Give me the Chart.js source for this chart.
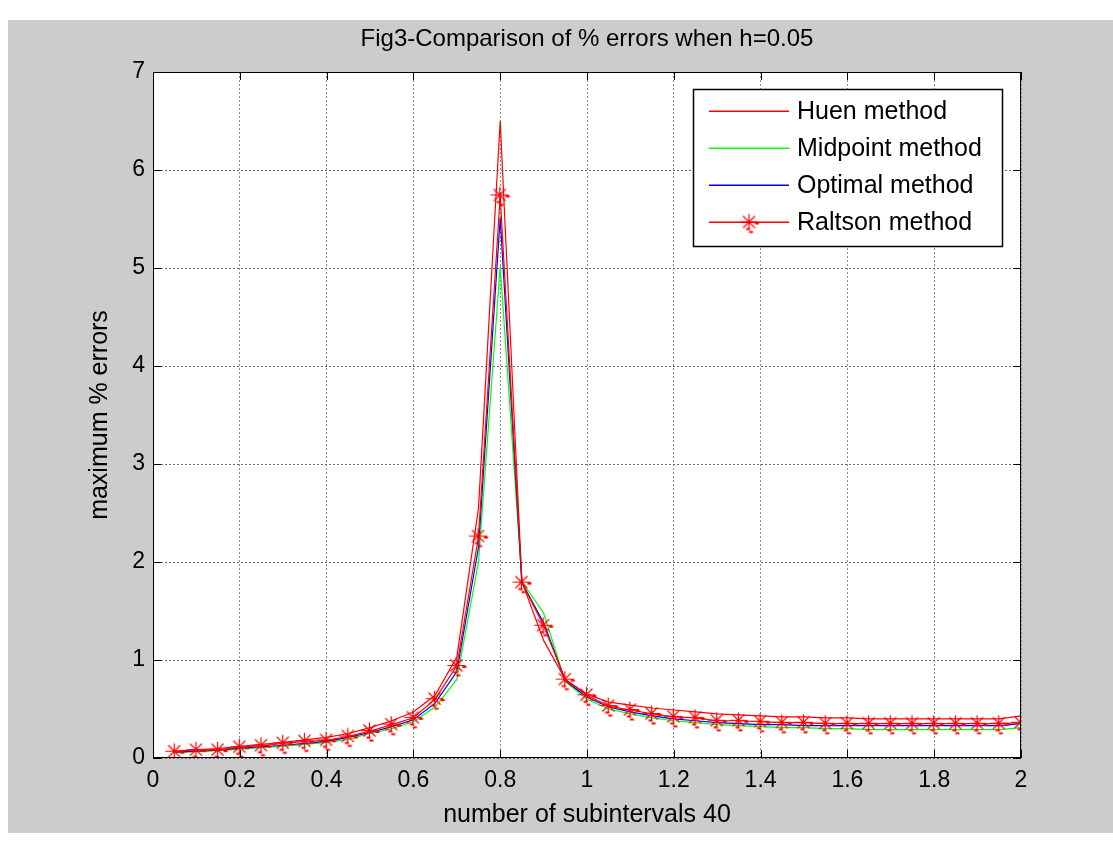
<!DOCTYPE html>
<html>
<head>
<meta charset="utf-8">
<script src="https://cdn.jsdelivr.net/npm/chart.js@4/dist/chart.umd.min.js"></script>
<style>
html,body{margin:0;padding:0;background:#fff;}
#wrap{width:1113px;height:844px;position:relative;}
</style>
</head>
<body>
<div id="wrap"><canvas id="c" width="1113" height="844"></canvas></div>
<script>
// ---- data ----
const xValues = [0.05,0.10,0.15,0.20,0.25,0.30,0.35,0.40,0.45,0.50,0.55,0.60,0.65,0.70,0.75,0.80,0.85,0.90,0.95,1.00,
                 1.05,1.10,1.15,1.20,1.25,1.30,1.35,1.40,1.45,1.50,1.55,1.60,1.65,1.70,1.75,1.80,1.85,1.90,1.95,2.00];
const huen     = [0.07,0.085,0.095,0.12,0.14,0.16,0.185,0.21,0.25,0.31,0.38,0.47,0.64,1.03,2.55,6.5,1.80,1.20,0.80,0.65,
                  0.57,0.54,0.51,0.49,0.47,0.45,0.44,0.43,0.42,0.42,0.41,0.41,0.40,0.40,0.40,0.40,0.40,0.40,0.40,0.43];
const midpoint = [0.055,0.065,0.075,0.09,0.105,0.12,0.14,0.16,0.19,0.25,0.30,0.37,0.52,0.80,2.00,5.02,1.80,1.48,0.78,0.60,
                  0.50,0.45,0.41,0.38,0.36,0.34,0.33,0.32,0.31,0.31,0.30,0.30,0.29,0.29,0.29,0.29,0.29,0.29,0.29,0.31];
const optimal  = [0.06,0.07,0.08,0.10,0.115,0.13,0.15,0.17,0.21,0.26,0.32,0.39,0.56,0.88,2.15,5.51,1.79,1.38,0.79,0.62,
                  0.52,0.47,0.43,0.40,0.38,0.36,0.35,0.34,0.34,0.33,0.33,0.33,0.33,0.33,0.33,0.33,0.33,0.33,0.33,0.35];
const raltson  = [0.064,0.08,0.08,0.11,0.125,0.15,0.17,0.18,0.22,0.275,0.34,0.41,0.60,0.94,2.26,5.74,1.79,1.35,0.80,0.64,
                  0.53,0.49,0.45,0.42,0.41,0.38,0.38,0.37,0.36,0.36,0.35,0.35,0.35,0.35,0.35,0.35,0.35,0.35,0.35,0.36];
const seriesNames = ["Huen method","Midpoint method","Optimal method","Raltson method"];
const seriesColors = ["#ff0000","#00ff00","#0000ff","#ff0000"];
const xTicks = [0,0.2,0.4,0.6,0.8,1,1.2,1.4,1.6,1.8,2];
const yTicks = [0,1,2,3,4,5,6,7];
const titleText = "Fig3-Comparison of % errors when h=0.05";
const xTitle = "number of subintervals 40";
const yTitle = "maximum % errors";

const toPts = arr => arr.map((v,i)=>({x:xValues[i], y:v}));
const FONT = "'Liberation Sans', Arial, Helvetica, sans-serif";

// MATLAB-like '*' marker with its rendering artefacts
function makeStar(color){
  const c = document.createElement('canvas');
  c.width = 28; c.height = 28;
  const g = c.getContext('2d');
  const cx = 13.5, cy = 13.5;
  g.strokeStyle = color; g.lineWidth = 1.2;
  g.beginPath();
  g.moveTo(cx-9,cy); g.lineTo(cx+9,cy);
  g.moveTo(cx,cy-8); g.lineTo(cx,cy+8);
  g.moveTo(cx-6,cy-6); g.lineTo(cx+6,cy+6);
  g.moveTo(cx-6,cy+6); g.lineTo(cx+6,cy-6);
  g.stroke();
  g.fillStyle = color;
  g.fillRect(cx+6, cy+0.5, 4, 2);
  g.fillRect(cx-3, cy+6, 4, 2);
  g.fillRect(cx, cy+9, 4, 2);
  return c;
}
const starImg = makeStar('#ff0000');

const bgPlugin = {
  id:'bg',
  beforeDraw(chart){
    const ctx = chart.ctx, a = chart.chartArea;
    ctx.save();
    ctx.fillStyle = '#ffffff';
    ctx.fillRect(0,0,chart.width,chart.height);
    ctx.fillStyle = '#cccccc';
    ctx.fillRect(8,20,chart.width-8,chart.height-31);
    ctx.fillStyle = '#ffffff';
    ctx.fillRect(a.left,a.top,a.right-a.left,a.bottom-a.top);
    ctx.restore();
  },
  afterDraw(chart){
    const ctx = chart.ctx, a = chart.chartArea;
    ctx.save();
    // title
    ctx.fillStyle = '#000';
    ctx.font = "24px " + FONT;
    ctx.textAlign = 'center';
    ctx.textBaseline = 'middle';
    ctx.fillText(titleText, (a.left+a.right)/2, 39);
    // box
    ctx.strokeStyle = '#000';
    ctx.lineWidth = 1;
    ctx.strokeRect(a.left+0.5, a.top+0.5, a.right-a.left-1, a.bottom-a.top-1);
    // inward ticks
    const xs = chart.scales.x, ys = chart.scales.y;
    ctx.beginPath();
    xs.ticks.forEach(t=>{
      const px = Math.round(xs.getPixelForValue(t.value))+0.5;
      ctx.moveTo(px,a.bottom); ctx.lineTo(px,a.bottom-8);
      ctx.moveTo(px,a.top); ctx.lineTo(px,a.top+8);
    });
    ys.ticks.forEach(t=>{
      const py = Math.round(ys.getPixelForValue(t.value))+0.5;
      ctx.moveTo(a.left,py); ctx.lineTo(a.left+8,py);
      ctx.moveTo(a.right,py); ctx.lineTo(a.right-8,py);
    });
    ctx.stroke();
    // legend
    const lx = 693, ly = 89, lw = 309, lh = 157;
    ctx.fillStyle = '#fff';
    ctx.fillRect(lx,ly,lw,lh);
    ctx.strokeStyle = '#000';
    ctx.lineWidth = 1.5;
    ctx.strokeRect(lx+0.5,ly+0.5,lw,lh);
    ctx.font = "25px " + FONT;
    ctx.textAlign = 'left';
    chart.data.datasets.forEach((ds,i)=>{
      const y = ly + 22 + i*37;
      const col = seriesColors[i];
      ctx.fillStyle = col;
      ctx.fillRect(lx+16, y-0.5, 80, 1.5);
      if (i === 3) {
        ctx.drawImage(starImg, lx+56-13.5, y-13.5);
      }
      ctx.fillStyle = '#000';
      ctx.fillText(ds.label, lx+104, y+1);
    });
    ctx.restore();
  }
};

const mk = (i, data, order, star) => ({
  label: seriesNames[i], data: toPts(data), borderColor: seriesColors[i], backgroundColor: seriesColors[i],
  borderWidth: 1.2, pointRadius: star ? 9 : 0, pointStyle: star ? starImg : 'circle',
  pointBorderColor: seriesColors[i], pointBorderWidth: 1.2, tension: 0, order, fill:false
});

new Chart(document.getElementById('c'), {
  type: 'line',
  data: { datasets: [
    mk(0, huen, 3, false),
    mk(1, midpoint, 2, false),
    mk(2, optimal, 1, false),
    mk(3, raltson, 0, true)
  ]},
  options: {
    responsive: false,
    animation: false,
    devicePixelRatio: 1,
    layout: { padding: { left: 0, top: 72, right: 92, bottom: 0 } },
    plugins: { legend: { display: false }, title: { display: false }, tooltip: { enabled: false } },
    scales: {
      x: {
        type: 'linear', min: 0, max: 2,
        afterBuildTicks: s => { s.ticks = xTicks.map(v=>({value:v})); },
        afterFit: s => { s.height = 86; },
        ticks: { color:'#000', font:{family:FONT,size:23}, padding: 9, maxRotation:0, autoSkip:false,
                 callback: v => String(v) },
        grid: { color:'#8a8a8a', lineWidth:1, drawTicks:false, tickLength:0 },
        border: { display:false, dash:[2,2] },
        title: { display:true, text:xTitle, color:'#000', font:{family:FONT,size:25}, padding:{top:0,bottom:14} }
      },
      y: {
        type: 'linear', min: 0, max: 7,
        afterBuildTicks: s => { s.ticks = yTicks.map(v=>({value:v})); },
        afterFit: s => { s.width = 153; },
        ticks: { color:'#000', font:{family:FONT,size:23}, padding: 8, callback: v => String(v) },
        grid: { color:'#6a6a6a', lineWidth:1, drawTicks:false, tickLength:0 },
        border: { display:false, dash:[2,2] },
        title: { display:true, text:yTitle, color:'#000', font:{family:FONT,size:25}, padding:{top:85,bottom:0} }
      }
    }
  },
  plugins: [bgPlugin]
});
</script>
</body>
</html>
